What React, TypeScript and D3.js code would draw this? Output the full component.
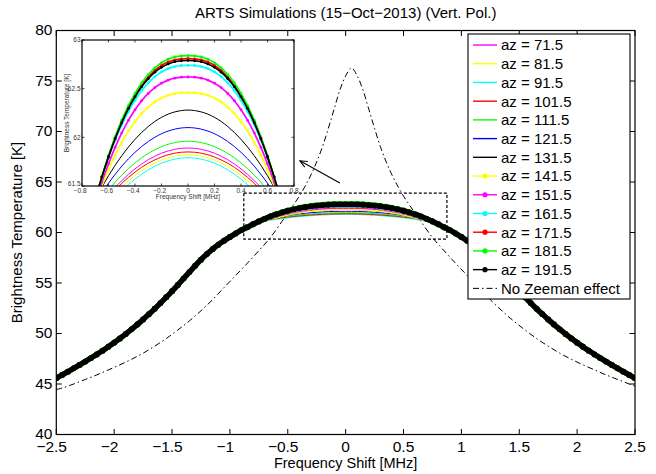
import React from 'react';
import * as d3 from 'd3';

// ---- data ----
const centerFreqs = [0, 0.05, 0.1, 0.15, 0.2, 0.25, 0.3, 0.35, 0.4, 0.45, 0.5, 0.55, 0.6, 0.65, 0.7, 0.75, 0.8];
const wingFreqs = [0.85, 0.9, 0.95, 1.0, 1.05, 1.1, 1.15, 1.2, 1.25, 1.3, 1.35, 1.4, 1.45, 1.5, 1.55, 1.6, 1.65, 1.7,
  1.75, 1.8, 1.85, 1.9, 1.95, 2.0, 2.05, 2.1, 2.15, 2.2, 2.25, 2.3, 2.35, 2.4, 2.45, 2.5];
const wingTemps = [60.52, 60.24, 59.91, 59.56, 59.19, 58.79, 58.35, 57.86, 57.31, 56.71, 56.08, 55.44, 54.81, 54.19,
  53.59, 53.01, 52.45, 51.91, 51.39, 50.89, 50.41, 49.95, 49.51, 49.09, 48.69, 48.3, 47.93, 47.57, 47.22, 46.88,
  46.55, 46.22, 45.9, 45.58];

const az71_5 = [61.89, 61.887, 61.877, 61.86, 61.837, 61.806, 61.77, 61.726, 61.676, 61.619, 61.556, 61.486, 61.409, 61.325, 61.235, 61.138, 60.92];
const az81_5 = [61.82, 61.817, 61.807, 61.79, 61.767, 61.737, 61.7, 61.657, 61.607, 61.55, 61.487, 61.417, 61.34, 61.257, 61.167, 61.07, 60.91];
const az91_5 = [61.79, 61.787, 61.776, 61.759, 61.735, 61.704, 61.667, 61.622, 61.571, 61.513, 61.448, 61.376, 61.297, 61.211, 61.119, 61.019, 60.9];
const az101_5 = [61.85, 61.847, 61.837, 61.821, 61.798, 61.769, 61.734, 61.692, 61.643, 61.588, 61.527, 61.459, 61.384, 61.303, 61.216, 61.122, 60.92];
const az111_5 = [61.96, 61.957, 61.946, 61.929, 61.904, 61.873, 61.835, 61.79, 61.737, 61.678, 61.612, 61.539, 61.459, 61.372, 61.278, 61.178, 60.92];
const az121_5 = [62.1, 62.096, 62.084, 62.064, 62.037, 62.001, 61.957, 61.906, 61.846, 61.779, 61.704, 61.62, 61.529, 61.43, 61.323, 61.208, 60.93];
const az131_5 = [62.28, 62.275, 62.261, 62.238, 62.205, 62.163, 62.111, 62.05, 61.98, 61.9, 61.811, 61.713, 61.605, 61.488, 61.361, 61.225, 60.95];
const az141_5 = [62.46, 62.458, 62.449, 62.432, 62.403, 62.363, 62.31, 62.243, 62.161, 62.064, 61.949, 61.817, 61.667, 61.501, 61.313, 61.106, 60.88];
const az151_5 = [62.62, 62.618, 62.608, 62.588, 62.556, 62.511, 62.451, 62.376, 62.283, 62.174, 62.045, 61.896, 61.728, 61.541, 61.33, 61.097, 60.85];
const az161_5 = [62.74, 62.738, 62.727, 62.706, 62.672, 62.624, 62.56, 62.48, 62.38, 62.264, 62.126, 61.967, 61.788, 61.588, 61.362, 61.114, 60.843];
const az171_5 = [62.81, 62.807, 62.796, 62.774, 62.738, 62.687, 62.619, 62.535, 62.43, 62.307, 62.162, 61.994, 61.804, 61.593, 61.355, 61.093, 60.806];
const az181_5 = [62.84, 62.837, 62.826, 62.803, 62.766, 62.714, 62.645, 62.559, 62.451, 62.325, 62.177, 62.005, 61.811, 61.595, 61.351, 61.083, 60.79];
const az191_5 = [62.79, 62.787, 62.777, 62.754, 62.719, 62.669, 62.602, 62.519, 62.416, 62.295, 62.151, 61.986, 61.799, 61.592, 61.357, 61.099, 60.816];

const seriesNames = ['az = 71.5', 'az = 81.5', 'az = 91.5', 'az = 101.5', 'az = 111.5', 'az = 121.5', 'az = 131.5',
  'az = 141.5', 'az = 151.5', 'az = 161.5', 'az = 171.5', 'az = 181.5', 'az = 191.5'];
const seriesValues = [az71_5, az81_5, az91_5, az101_5, az111_5, az121_5, az131_5, az141_5, az151_5, az161_5, az171_5, az181_5, az191_5];
const seriesColors = ['#ff00ff', '#ffff00', '#00ffff', '#ff0000', '#00ff00', '#0000ff', '#000000',
  '#ffff00', '#ff00ff', '#00ffff', '#ff0000', '#00ff00', '#000000'];
const seriesMarkers = [false, false, false, false, false, false, false, true, true, true, true, true, true];

const noZeemanCenter = 0.05;
const noZeemanDist = [0, 0.05, 0.1, 0.15, 0.2, 0.25, 0.3, 0.35, 0.4, 0.45, 0.5, 0.55, 0.6, 0.7, 0.8, 0.9, 1.0, 1.1, 1.2,
  1.3, 1.4, 1.5, 1.6, 1.7, 1.8, 1.9, 2.0, 2.1, 2.2, 2.3, 2.4, 2.5, 2.55];
const noZeemanTemps = [76.3, 75.5, 74.1, 72.2, 70.3, 68.5, 67.0, 65.7, 64.6, 63.6, 62.75, 61.9, 61.1, 59.5, 58.2, 56.95,
  55.75, 54.55, 53.35, 52.25, 51.25, 50.35, 49.5, 48.75, 48.05, 47.45, 46.9, 46.4, 45.9, 45.45, 45.0, 44.6, 44.45];

const xTicksMain = [-2.5, -2, -1.5, -1, -0.5, 0, 0.5, 1, 1.5, 2, 2.5];
const yTicksMain = [40, 45, 50, 55, 60, 65, 70, 75, 80];
const xTicksInset = [-0.8, -0.6, -0.4, -0.2, 0, 0.2, 0.4, 0.6, 0.8];
const yTicksInset = [61.5, 62, 62.5, 63];

const zoomBoxX = [-0.88, 0.875];
const zoomBoxY = [59.35, 63.9];
const arrowFrom = [-0.05, 64.9];
const arrowTo = [-0.395, 67.1];

const titleText = 'ARTS Simulations (15\u2212Oct\u22122013) (Vert. Pol.)';
const xLabel = 'Frequency Shift [MHz]';
const yLabel = 'Brightness Temperature [K]';
const noZeemanLabel = 'No Zeeman effect';

const FONT = '"Liberation Sans", Arial, Helvetica, sans-serif';

function fmt(v: number): string {
  const s = String(v);
  return s.replace('-', '\u2212');
}

function fullSeries(center: number[]): [number, number][] {
  const pts: [number, number][] = [];
  for (let i = wingFreqs.length - 1; i >= 0; i--) pts.push([-wingFreqs[i], wingTemps[i]]);
  for (let i = centerFreqs.length - 1; i >= 1; i--) pts.push([-centerFreqs[i], center[i]]);
  for (let i = 0; i < centerFreqs.length; i++) pts.push([centerFreqs[i], center[i]]);
  for (let i = 0; i < wingFreqs.length; i++) pts.push([wingFreqs[i], wingTemps[i]]);
  return pts;
}

function noZeemanSeries(): [number, number][] {
  const pts: [number, number][] = [];
  for (let i = noZeemanDist.length - 1; i >= 1; i--) pts.push([noZeemanCenter - noZeemanDist[i], noZeemanTemps[i]]);
  for (let i = 0; i < noZeemanDist.length; i++) pts.push([noZeemanCenter + noZeemanDist[i], noZeemanTemps[i]]);
  return pts;
}

export default function App() {
  const W = 656, H = 474;
  const x = d3.scaleLinear().domain([-2.5, 2.5]).range([56.3, 635]);
  const y = d3.scaleLinear().domain([40, 80]).range([434.5, 30.5]);
  const xi = d3.scaleLinear().domain([-0.8, 0.8]).range([82, 294]);
  const yi = d3.scaleLinear().domain([61.5, 63]).range([186, 40]);

  const lineMain = d3.line<[number, number]>().x(p => x(p[0])).y(p => y(p[1])).curve(d3.curveCatmullRom.alpha(0.5));
  const lineInset = d3.line<[number, number]>().x(p => xi(p[0])).y(p => yi(p[1])).curve(d3.curveCatmullRom.alpha(0.5));

  const allSeries = seriesValues.map(v => fullSeries(v));
  const nz = noZeemanSeries();

  const [x0, x1] = x.range();
  const [yb, yt] = y.range();
  const [ix0, ix1] = xi.range();
  const [iyb, iyt] = yi.range();

  // arrow geometry
  const ax1 = x(arrowFrom[0]), ay1 = y(arrowFrom[1]);
  const ax2 = x(arrowTo[0]), ay2 = y(arrowTo[1]);
  const ang = Math.atan2(ay1 - ay2, ax1 - ax2);
  const hl = 8, ha = 0.42;
  const h1 = [ax2 + hl * Math.cos(ang + ha), ay2 + hl * Math.sin(ang + ha)];
  const h2 = [ax2 + hl * Math.cos(ang - ha), ay2 + hl * Math.sin(ang - ha)];

  const legX = 468, legY = 34, legW = 162, legH = 265;
  const rowY0 = 45, rowDy = 18.72;

  return (
    <svg width={W} height={H} viewBox={`0 0 ${W} ${H}`}
      style={{ position: 'absolute', left: 0, top: 0, background: '#fff', fontFamily: FONT }}>
      <defs>
        <clipPath id="clipMain"><rect x={x0} y={yt} width={x1 - x0} height={yb - yt} /></clipPath>
        <clipPath id="clipInset"><rect x={ix0} y={iyt} width={ix1 - ix0} height={iyb - iyt} /></clipPath>
      </defs>
      <rect x={0} y={0} width={W} height={H} fill="#fff" />

      {/* title */}
      <text x={(x0 + x1) / 2} y={18} textAnchor="middle" fontSize={15}>{titleText}</text>

      {/* main plot data */}
      <g clipPath="url(#clipMain)">
        <path d={lineMain(nz) || ''} fill="none" stroke="#000" strokeWidth={1} strokeDasharray="6,3,1.5,3" />
        {allSeries.map((pts, i) => (
          <g key={i}>
            {seriesMarkers[i] ? (
              <path d={lineMain(pts) || ''} fill="none" stroke={seriesColors[i]} strokeWidth={5.2}
                strokeLinejoin="round" strokeLinecap="round" />
            ) : (
              <path d={lineMain(pts) || ''} fill="none" stroke={seriesColors[i]} strokeWidth={1} />
            )}
            {seriesMarkers[i] && pts.map((p, j) => (
              <circle key={j} cx={x(p[0])} cy={y(p[1])} r={2.9} fill={seriesColors[i]} />
            ))}
          </g>
        ))}
      </g>

      {/* zoom rectangle */}
      <rect x={x(zoomBoxX[0])} y={y(zoomBoxY[1])} width={x(zoomBoxX[1]) - x(zoomBoxX[0])}
        height={y(zoomBoxY[0]) - y(zoomBoxY[1])} fill="none" stroke="#000" strokeWidth={1.2} strokeDasharray="3,2" />

      {/* main axes box */}
      <rect x={x0} y={yt} width={x1 - x0} height={yb - yt} fill="none" stroke="#000" strokeWidth={1.2} />
      {xTicksMain.map(t => (
        <g key={'xt' + t}>
          <line x1={x(t)} x2={x(t)} y1={yb} y2={yb - 5.5} stroke="#000" strokeWidth={1} />
          <line x1={x(t)} x2={x(t)} y1={yt} y2={yt + 5.5} stroke="#000" strokeWidth={1} />
          <text x={x(t) - (t < 0 ? 4.6 : 0)} y={452} textAnchor="middle" fontSize={15.5}>{fmt(t)}</text>
        </g>
      ))}
      {yTicksMain.map(t => (
        <g key={'yt' + t}>
          <line x1={x0} x2={x0 + 5.5} y1={y(t)} y2={y(t)} stroke="#000" strokeWidth={1} />
          <line x1={x1} x2={x1 - 5.5} y1={y(t)} y2={y(t)} stroke="#000" strokeWidth={1} />
          <text x={52.5} y={y(t) - 1} dy="0.36em" textAnchor="end" fontSize={15.5}>{fmt(t)}</text>
        </g>
      ))}
      <text x={(x0 + x1) / 2} y={467.5} textAnchor="middle" fontSize={14.5}>{xLabel}</text>
      <text transform={`translate(17,${(yb + yt) / 2}) rotate(-90)`} textAnchor="middle" dy="0.36em" fontSize={15}>{yLabel}</text>

      {/* arrow */}
      <line x1={ax1} y1={ay1} x2={ax2} y2={ay2} stroke="#000" strokeWidth={1.1} />
      <polyline points={`${h1[0]},${h1[1]} ${ax2},${ay2} ${h2[0]},${h2[1]}`} fill="none" stroke="#000" strokeWidth={1.1} />

      {/* inset */}
      <rect x={ix0} y={iyt} width={ix1 - ix0} height={iyb - iyt} fill="#fff" />
      <g clipPath="url(#clipInset)">
        {allSeries.map((pts, i) => (
          <g key={i}>
            <path d={lineInset(pts) || ''} fill="none" stroke={seriesColors[i]}
              strokeWidth={seriesMarkers[i] ? 1.7 : 1} />
            {seriesMarkers[i] && pts.map((p, j) => (
              <circle key={j} cx={xi(p[0])} cy={yi(p[1])} r={1.4} fill={seriesColors[i]} />
            ))}
          </g>
        ))}
      </g>
      <rect x={ix0} y={iyt} width={ix1 - ix0} height={iyb - iyt} fill="none" stroke="#000" strokeWidth={1.2} />
      {xTicksInset.map(t => (
        <g key={'ixt' + t}>
          <line x1={xi(t)} x2={xi(t)} y1={iyb} y2={iyb - 2.5} stroke="#000" strokeWidth={0.7} />
          <line x1={xi(t)} x2={xi(t)} y1={iyt} y2={iyt + 2.5} stroke="#000" strokeWidth={0.7} />
          <text x={xi(t) - (t < 0 ? 1.9 : 0)} y={192.5} textAnchor="middle" fontSize={6.5} fill="#333">{fmt(t)}</text>
        </g>
      ))}
      {yTicksInset.map(t => (
        <g key={'iyt' + t}>
          <line x1={ix0} x2={ix0 + 2.5} y1={yi(t)} y2={yi(t)} stroke="#000" strokeWidth={0.7} />
          <line x1={ix1} x2={ix1 - 2.5} y1={yi(t)} y2={yi(t)} stroke="#000" strokeWidth={0.7} />
          <text x={80.5} y={yi(t) - (t === 61.5 ? 2 : 0)} dy="0.36em" textAnchor="end" fontSize={6.5} fill="#333">{fmt(t)}</text>
        </g>
      ))}
      <text x={(ix0 + ix1) / 2} y={199} textAnchor="middle" fontSize={6.5} fill="#333">{xLabel}</text>
      <text transform={`translate(66.5,${(iyb + iyt) / 2}) rotate(-90)`} textAnchor="middle" dy="0.36em" fontSize={6.5} fill="#333">{yLabel}</text>

      {/* legend */}
      <rect x={legX} y={legY} width={legW} height={legH} fill="#fff" stroke="#000" strokeWidth={1.1} />
      {seriesNames.map((name, i) => {
        const ry = rowY0 + i * rowDy;
        return (
          <g key={name}>
            <line x1={473} x2={497} y1={ry} y2={ry} stroke={seriesColors[i]} strokeWidth={1.4} />
            {seriesMarkers[i] && <circle cx={485} cy={ry} r={2.6} fill={seriesColors[i]} />}
            <text x={501} y={ry} dy="0.36em" fontSize={15}>{name}</text>
          </g>
        );
      })}
      {(() => {
        const ry = rowY0 + seriesNames.length * rowDy;
        return (
          <g>
            <line x1={473} x2={497} y1={ry} y2={ry} stroke="#000" strokeWidth={1} strokeDasharray="6,3,1.5,3" />
            <text x={501} y={ry} dy="0.36em" fontSize={15}>{noZeemanLabel}</text>
          </g>
        );
      })()}
    </svg>
  );
}
